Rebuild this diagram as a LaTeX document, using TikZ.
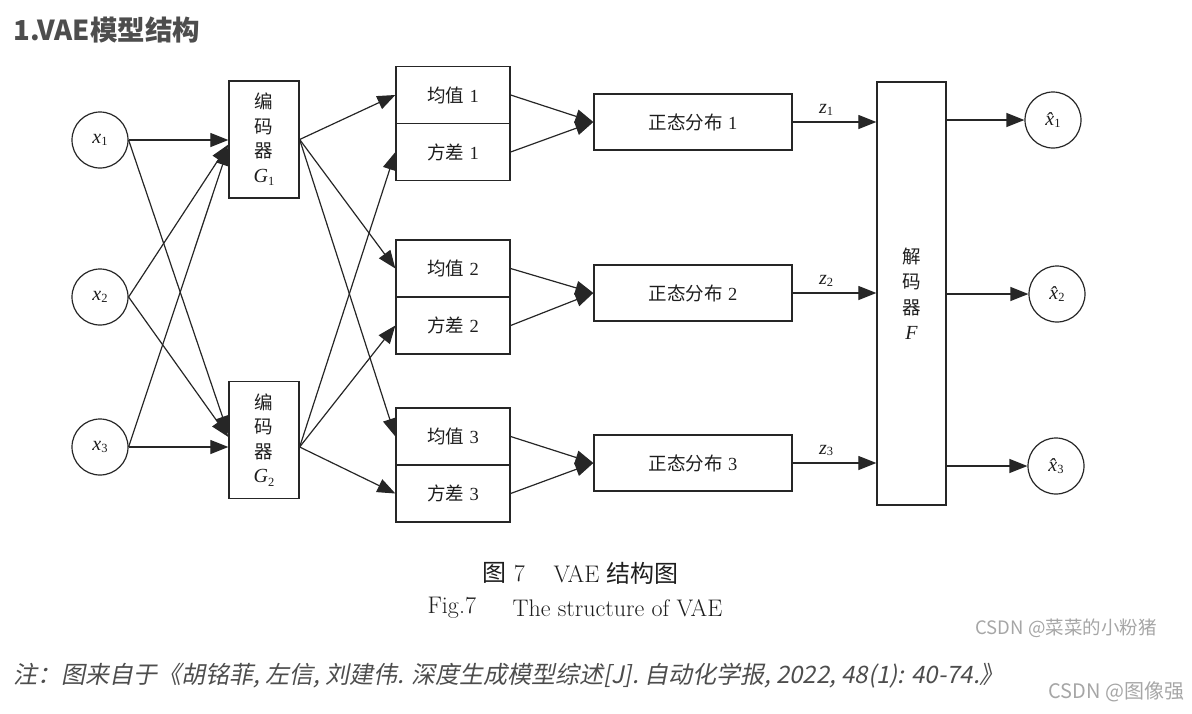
\documentclass[tikz,border=0pt]{standalone}
\usepackage{fontspec}
\usetikzlibrary{arrows.meta,calc}
\newfontfamily\cjk{Noto Sans CJK SC}
\newfontfamily\tms{Liberation Serif}
\newfontfamily\cjkit[FakeSlant=0.2]{Noto Sans CJK SC}
\definecolor{lc}{HTML}{262626}
\definecolor{tc}{HTML}{1E1E1E}
\definecolor{hd}{HTML}{4D4D4D}
\newcommand\mv[2]{{\tms\itshape\fontsize{20}{22}\selectfont #1}\raisebox{-0.4ex}{\tms\fontsize{12.5}{13}\selectfont #2}}
\newcommand\hv[1]{{\tms\itshape\fontsize{20}{22}\selectfont \^x}\raisebox{-0.4ex}{\tms\fontsize{12.5}{13}\selectfont #1}}
\begin{document}
\begin{tikzpicture}[x=1pt,y=-1pt,
  every node/.style={text=tc},
  box/.style={draw=lc, line width=1.3pt, inner sep=0pt, font=\fontsize{18.5}{20}\selectfont},
  circ/.style={circle, draw=lc, line width=1.2pt, minimum size=56pt, inner sep=0pt},
  arr/.style={draw=lc, line width=1.2pt, -{Triangle[length=18pt,width=14pt]}},
  mbox/.style={box, minimum width=114pt, minimum height=57pt},
  nbox/.style={box, minimum width=198pt, minimum height=56pt},
  ebox/.style={box, minimum width=70pt, minimum height=117pt, align=center, font=\fontsize{18.5}{24.5}\selectfont}
]
\useasboundingbox (0,0) rectangle (1192,713);

% title
\node[anchor=west, text=hd, font=\cjk\bfseries\fontsize{27.5}{30}\selectfont] (title) at (10,30) {1.VAE模型结构};

% inputs
\node[circ] (x1) at (100,140) {\mv{x}{1}};
\node[circ] (x2) at (100,297) {\mv{x}{2}};
\node[circ] (x3) at (100,447) {\mv{x}{3}};

% encoders
\node[ebox] (G1) at (264,139.5) {\cjk 编\\\cjk 码\\\cjk 器\\\mv{G}{1}};
\node[ebox] (G2) at (264,440) {\cjk 编\\\cjk 码\\\cjk 器\\\mv{G}{2}};
\coordinate (g2i) at (G2.west |- x3.east);
\coordinate (g2o) at (G2.east |- x3.east);

% mean / variance
\node[mbox] (m1) at (453,95) {{\cjk 均值} {\tms 1}};
\node[mbox] (v1) at (453,152) {{\cjk 方差} {\tms 1}};
\node[mbox] (m2) at (453,268.5) {{\cjk 均值} {\tms 2}};
\node[mbox] (v2) at (453,325.5) {{\cjk 方差} {\tms 2}};
\node[mbox] (m3) at (453,436.5) {{\cjk 均值} {\tms 3}};
\node[mbox] (v3) at (453,493.5) {{\cjk 方差} {\tms 3}};

% normal distributions
\node[nbox] (N1) at (693,122) {{\cjk 正态分布} {\tms 1}};
\node[nbox] (N2) at (693,293) {{\cjk 正态分布} {\tms 2}};
\node[nbox] (N3) at (693,463) {{\cjk 正态分布} {\tms 3}};

% decoder
\node[box, minimum width=69pt, minimum height=423pt, align=center, font=\fontsize{18.5}{25.5}\selectfont] (F) at (911.5,293.5) {\cjk 解\\\cjk 码\\\cjk 器\\{\tms\itshape\fontsize{20}{22}\selectfont F}};

% outputs
\node[circ] (y1) at (1053,120) {\hv{1}};
\node[circ] (y2) at (1057,294) {\hv{2}};
\node[circ] (y3) at (1056,466) {\hv{3}};

% input -> encoder
\draw[arr] (x1.east) -- (G1.west |- x1.east);
\draw[arr] (x2.east) -- ([yshift=-5pt]G1.west);
\draw[arr] (x3.east) -- ([yshift=-8pt]G1.west);
\draw[arr] (x1.east) -- ([yshift=6pt]G2.west);
\draw[arr] (x2.east) -- ([yshift=3pt]G2.west);
\draw[arr] (x3.east) -- (g2i);

% encoder -> mean/var
\draw[arr] (G1.east) -- (m1.west);
\draw[arr] (G1.east) -- (m2.west);
\draw[arr] (G1.east) -- (m3.west);
\draw[arr] (g2o) -- (v1.west);
\draw[arr] (g2o) -- (v2.west);
\draw[arr] (g2o) -- (v3.west);

% mean/var -> normal
\draw[arr] (m1.east) -- (N1.west);
\draw[arr] (v1.east) -- (N1.west);
\draw[arr] (m2.east) -- (N2.west);
\draw[arr] (v2.east) -- (N2.west);
\draw[arr] (m3.east) -- (N3.west);
\draw[arr] (v3.east) -- (N3.west);

% normal -> decoder
\draw[arr] (N1.east) -- node[pos=0.4, above=3pt] (z1) {\mv{z}{1}} (N1.east -| F.west);
\draw[arr] (N2.east) -- node[pos=0.4, above=3pt] (z2) {\mv{z}{2}} (N2.east -| F.west);
\draw[arr] (N3.east) -- node[pos=0.4, above=3pt] (z3) {\mv{z}{3}} (N3.east -| F.west);

% decoder -> outputs
\draw[arr] (F.east |- y1.west) -- (y1.west);
\draw[arr] (F.east |- y2.west) -- (y2.west);
\draw[arr] (F.east |- y3.west) -- (y3.west);

% caption
\node[anchor=west, font=\fontsize{24}{26}\selectfont] (c1a) at (479,573) {{\cjk 图} 7};
\node[anchor=west, font=\fontsize{24}{26}\selectfont] (c1b) at (550,573) {VAE {\cjk 结构图}};
\node[anchor=west, font=\fontsize{24}{26}\selectfont] (c2a) at (424,608) {Fig.7};
\node[anchor=west, font=\fontsize{24}{26}\selectfont] (c2b) at (509,608) {The structure of VAE};

% watermarks and note
\node[anchor=west, text=black!35, font=\cjk\fontsize{18.5}{20}\selectfont] (wm1) at (972,628) {CSDN @菜菜的小粉猪};
\node[anchor=west, text=hd, font=\cjkit\fontsize{24}{26}\selectfont] (note) at (10,676) {注：图来自于《胡铭菲, 左信, 刘建伟. 深度生成模型综述[J]. 自动化学报, 2022, 48(1): 40-74.》};
\node[anchor=east, text=black!35, font=\cjk\fontsize{20}{22}\selectfont] (wm2) at (1188,692) {CSDN @图像强};
\end{tikzpicture}
\end{document}
